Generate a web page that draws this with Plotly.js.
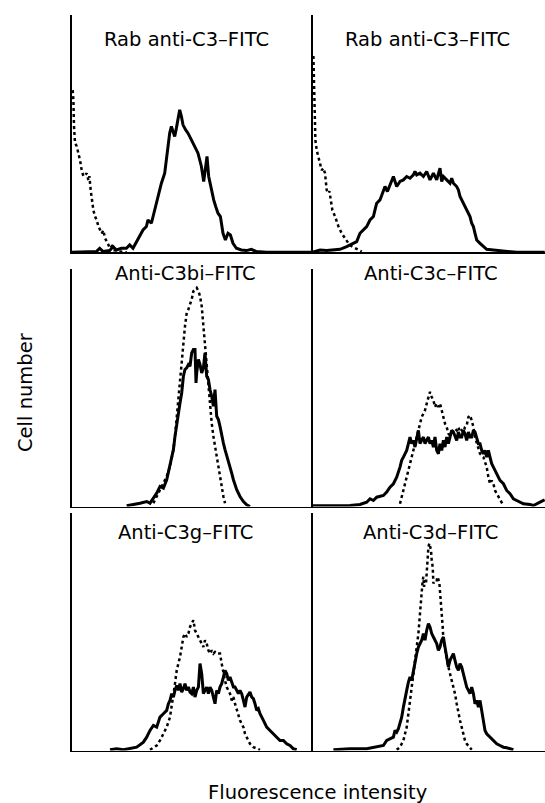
<!DOCTYPE html>
<html>
<head>
<meta charset="utf-8">
<script src="https://cdn.plot.ly/plotly-3.0.1.min.js"></script>
<style>html,body{margin:0;padding:0;background:#fff;}#chart{width:545px;height:803px;}</style>
</head>
<body>
<div id="chart"></div>
<script>
// Panel titles and axis labels
const panelTitles = ["Rab anti-C3–FITC", "Rab anti-C3–FITC", "Anti-C3bi–FITC", "Anti-C3c–FITC", "Anti-C3g–FITC", "Anti-C3d–FITC"];
const xLabel = "Fluorescence intensity";
const yLabel = "Cell number";

// Panel 1 (Rab anti-C3–FITC, left)
const p1SolidX = [0,1.3,14.7,24.7,28,31.3,38,41.3,44.7,49.7,54.7,58,61.3,64.7,68,71.3,74.7,76.3,79.7,83,86.3,89.7,93,94.7,96.3,98,99.7,101.3,103,104.7,106.3,108,109.7,111.3,114,116.3,119.7,123,126.3,129.7,132,134,135.3,137,139.7,142,144,146.3,148.7,151.3,153.7,156.3,158.7,161.3,164.7,169.7,174.7,179.7,184.7,194.7,241];
const p1SolidY = [0,0,0.3,0.7,4,0.7,1.7,5.7,2.3,4,4,7.3,4,10.7,17.3,22.3,25.7,32.3,29,42.3,55.7,69,79,92.3,105.7,119,125.7,120.7,115.7,124,132.3,142.3,135.7,127.3,122.3,119,112.3,105.7,99,85.7,70.7,85.7,95.7,75.7,62.3,52.3,45.7,39,35.7,19,12.3,19,17.3,9,4,2.3,1.7,3,0.7,0,0];
const p1DotX = [1,1.7,2.3,3.3,5,6.7,8.3,10,11.7,13.3,15,16.7,17.7,19,20,21.7,23.3,25,26.7,28.3,30,31.7,33.3,35,36.7,38.3,40,41.7,45,48.3,55];
const p1DotY = [162,152,126,109,106,99,92,82,76,77,79,72,76,62,52,42,36,32,26,22,19,22,14,11,7,4,6,2,1.7,0.7,0];

// Panel 2 (Rab anti-C3–FITC, right)
const p2SolidX = [0,2.3,7.3,14,20.7,27.3,34,37.3,40.7,44,47.3,50.7,54,57.3,60.7,62.3,64,67.3,70.7,72.3,74.7,77.3,80.7,82.3,84,87.3,90.7,94,97.3,100.7,102.3,104,107.3,110.7,114,117.3,120.7,124,127.3,129,130.7,134,137.3,139,140.7,144,145.7,147.3,150.7,154,157.3,159,160.7,162.3,164,167.3,170.7,174,180.7,187.3,194,204,232];
const p2SolidY = [0,0.7,2.3,1.7,2.3,3,5.7,7.3,9,10.7,19,22.3,25.7,32.3,35.7,42.3,49,52.3,62.3,65.7,60.7,67.3,75.7,70.7,65.7,70.7,72.3,75.7,74,77.3,80.7,77.3,79,75.7,80.7,72.3,79,72.3,84,70.7,75.7,72.3,69,74,69,65.7,62.3,55.7,49,42.3,35.7,29,25.7,19,12.3,9,5.7,3,2.3,1.7,0.7,0,0];
const p2DotX = [0.7,1.3,2,2.7,4,5.7,7.3,9,10.7,12.3,14,15.7,16.7,18,19.7,22.3,25.7,29,32.3,35.7,39,42.3,45.7,49];
const p2DotY = [196,169,142,112,102,96,89,82,84,79,62,59,61,52,42,36,26,19,14,9,6,4,2,0.7];

// Panel 3 (Anti-C3bi–FITC)
const p3SolidX = [55,61.7,68.3,75,78.3,81.7,85,88.3,91.7,95,98.3,100,101.7,103.3,105,106.7,108.3,110,111.7,113.3,115,116.7,118.3,120,121.7,123.3,124.3,125,126.7,128.3,130,131.7,133.3,135,136.7,138.3,140,141.7,143.3,145,146.7,148.3,150,151.7,153.3,155,158.3,160,161.7,165,168.3,171.7,175,178.3];
const p3SolidY = [0.7,1.7,3.3,5,3.3,8.3,13.3,20,18.3,26.7,43.3,50,56.7,70,83.3,96.7,103.3,113.3,130,136.7,138.3,141.7,140,153.3,156.7,156.7,123.3,133.3,146.7,141.7,133.3,138.3,153.3,130,126.7,116.7,110,100,116.7,90,86.7,80,70,63.3,56.7,50,40,33.3,26.7,16.7,10,5,1.7,0];
const p3DotX = [81.7,85,88.3,91.7,95,98.3,101.7,103.3,105,106.7,108.3,110,111.7,113.3,115,116.7,118.3,120,121.7,123.3,125,126.7,128.3,130,131.7,133.3,135,136.7,138.3,140,141.7,143.3,145,146.7,148.3,150,151.7,153.3];
const p3DotY = [3.3,10,16.7,23.3,30,40,56.7,70,90,110,130,150,166.7,180,193.3,196.7,201.7,206.7,215,216.7,218.3,215,210,200,180,160,140,116.7,100,83.3,70,60,50,40,30,20,10,3.3];

// Panel 4 (Anti-C3c–FITC)
const p4SolidX = [0,37.3,47.3,54,57.3,60.7,64,70.7,74,77.3,80.7,84,87.3,89,90.7,94,95.7,97.3,99,100.7,102.3,104,105.7,107.3,109,110.7,112.3,114,115.7,117.3,119,120.7,122.3,124,125.7,127.3,129,130.7,132.3,134,135.7,137.3,139,140.7,142.3,144,145.7,147.3,149,150.7,152.3,154,155.7,157.3,159,160.7,162.3,164,165.7,167.3,169,170.7,172.3,174,175.7,177.3,179,180.7,184,187.3,190.7,194,197.3,200.7,204,207.3,210.7,217.3,220.7,227.3,232];
const p4SolidY = [0.7,1,2,4.3,7.7,6,9.3,11,14.3,19.3,22.7,29.3,39.3,46,49.3,56,62.7,69.3,62.7,66,59.3,69.3,76,62.7,66,69.3,62.7,66,69.3,62.7,66,59.3,69.3,56,52.7,62.7,56,66,59.3,69.3,62.7,69.3,76,74.3,69.3,66,74.3,69.3,69.3,76,72.7,66,74.3,69.3,69.3,76,74.3,69.3,62.7,62.7,56,52.7,56,49.3,56,49.3,42.7,39.3,32.7,26,22.7,16,12.7,7.7,6,4.3,2.7,2,1,4.3,6.7];
const p4DotX = [87.3,89,90.7,94,97.3,100.7,102.3,104,105.7,107.3,109,110.7,112.3,114,115.7,117.3,119,120.7,122.3,124,125.7,127.3,129,130.7,132.3,134,135.7,137.3,139,140.7,142.3,144,145.7,147.3,149,150.7,152.3,154,155.7,157.3,159,160.7,162.3,164,165.7,167.3,170.7,174,175.7,177.3,179,180.7,182.3,184,187.3,190.7];
const p4DotY = [2.7,9.3,16,29.3,42.7,56,62.7,69.3,76,82.7,89.3,92.7,96,102.7,107.7,114.3,109.3,106,99.3,102.7,99.3,102.7,96,89.3,82.7,79.3,72.7,71,74.3,76,77.7,76,79.3,74.3,76,74.3,79.3,81,89.3,91,86,79.3,69.3,62.7,56,52.7,49.3,39.3,29.3,22.7,26,22.7,16,12.7,6,1];

// Panel 5 (Anti-C3g–FITC)
const p5SolidX = [38.3,45,51.7,58.3,65,71.7,75,78.3,81.7,85,86.7,88.3,91.7,95,96.7,98.3,100,101.7,103.3,105,106.7,108.3,110,111.7,113.3,115,116.7,118.3,120,121.7,123.3,125,126.7,128.3,130,131.7,133.3,135,136.7,138.3,140,141.7,143.3,145,146.7,148.3,150,151.7,153.3,155,156.7,158.3,160,161.7,163.3,165,166.7,168.3,170,171.7,173.3,175,176.7,178.3,180,181.7,183.3,185,186.7,188.3,191.7,195,198.3,201.7,205,208.3,211.7,215,218.3,221.7,225];
const p5SolidY = [0.7,1.7,0.7,1.7,3.3,8.3,13.3,20,25,23.3,30,33.3,36.7,40,46.7,50,56.7,53.3,60,65,60,66.7,58.3,61.7,66.7,60,63.3,58.3,56.7,63.3,53.3,60,63.3,86.7,76.7,56.7,60,63.3,56.7,63.3,60,53.3,46.7,60,56.7,63.3,66.7,73.3,80,76.7,70,73.3,68.3,63.3,63.3,60,56.7,60,56.7,50,43.3,53.3,56.7,58.3,53.3,51.7,46.7,40,41.7,36.7,30,23.3,20,16.7,13.3,10,10,6.7,5,1.7,0.7];
const p5DotX = [78.3,81.7,85,88.3,91.7,95,98.3,100,101.7,103.3,105,106.7,108.3,110,111.7,113.3,115,116.7,118.3,120,121.7,123.3,125,126.7,128.3,130,131.7,133.3,135,136.7,138.3,140,141.7,143.3,145,146.7,148.3,150,151.7,153.3,155,156.7,158.3,160,161.7,163.3,165,166.7,168.3,170,171.7,173.3,175,176.7,178.3,181.7,185,188.3];
const p5DotY = [0.7,3.3,5,10,16.7,23.3,33.3,43.3,56.7,66.7,80,86.7,93.3,103.3,113.3,116.7,113.3,116.7,123.3,126.7,130,120,116.7,113.3,110,106.7,103.3,110,106.7,100,96.7,100,96.7,98.3,96.7,96.7,96.7,86.7,76.7,70,63.3,60,56.7,50,53.3,46.7,40,33.3,30,26.7,23.3,16.7,13.3,10,6.7,3.3,1.7,0.7];

// Panel 6 (Anti-C3d–FITC)
const p6SolidX = [20.7,37.3,54,64,70.7,74,77.3,80.7,82.3,84,85.7,87.3,89,90.7,92.3,94,95.7,97.3,99,100.7,102.3,104,105.7,107.3,109,110.7,112.3,114,115.7,117.3,119,120.7,122.3,124,125.7,127.3,129,130.7,132.3,134,135.7,137.3,139,140.7,142.3,144,145.7,147.3,149,150.7,152.3,154,155.7,157.3,159,160.7,162.3,164,165.7,167.3,169,170.7,172.3,174,177.3,180.7,184,187.3,190.7,194,197.3,200.7];
const p6SolidY = [0.7,1.7,1.7,3.3,5,10,11.7,13.3,20,18.3,21.7,26.7,33.3,43.3,50,60,68.3,73.3,70,80,86.7,96.7,103.3,106.7,110,116.7,110,120,126.7,123.3,116.7,113.3,110,106.7,100,103.3,110,113.3,103.3,93.3,83.3,90,93.3,96.7,90,83.3,80,86.7,83.3,76.7,70,63.3,60,56.7,63.3,56.7,46.7,50,43.3,50,40,30,20,16.7,13.3,10,6.7,5,3.3,2.7,1.7,0.7];
const p6DotX = [84,87.3,89,90.7,92.3,94,95.7,97.3,99,100.7,102.3,104,105.7,107.3,108.3,109,110,110.7,111.3,112.3,113.3,114,115,115.7,116.7,117.3,118.3,119,120,120.7,122.3,124,125,126.7,127.3,128.3,129,130,130.7,132.3,134,135.7,137.3,139,140.7,142.3,144,145.7,147.3,149,150.7,152.3,154,155.7,157.3,159];
const p6DotY = [0.7,3.3,6.7,10,16.7,23.3,36.7,50,63.3,76.7,90,103.3,116.7,136.7,153.3,163.3,170,173.3,163.3,170,166.7,176.7,193.3,203.3,206.7,205,200,190,183.3,166.7,170,170,173.3,166.7,160,150,140,123.3,110,100,90,83.3,76.7,70,63.3,56.7,46.7,36.7,30,23.3,16.7,10,6.7,5,3.3,0.7];

const panels = [
  [p1SolidX, p1SolidY, p1DotX, p1DotY],
  [p2SolidX, p2SolidY, p2DotX, p2DotY],
  [p3SolidX, p3SolidY, p3DotX, p3DotY],
  [p4SolidX, p4SolidY, p4DotX, p4DotY],
  [p5SolidX, p5SolidY, p5DotX, p5DotY],
  [p6SolidX, p6SolidY, p6DotX, p6DotY]
];

const W = 545, H = 803;
const colDom = [[71.7 / W, 312.7 / W], [312.7 / W, 1]];
const rowDom = [[1 - 252.3 / H, 1 - 15 / H], [1 - 506.5 / H, 1 - 269 / H], [1 - 750.5 / H, 1 - 513 / H]];
const xMax = [241, 232.3];
const yMax = 237;

const traces = [];
const layout = {
  width: W, height: H,
  margin: {l: 0, r: 0, t: 0, b: 0, pad: 0},
  paper_bgcolor: "#fff", plot_bgcolor: "rgba(0,0,0,0)",
  showlegend: false,
  font: {family: "DejaVu Sans, sans-serif", color: "#000"},
  annotations: []
};

const titlePos = [[186.7, 40], [427.8, 40], [185, 273.5], [430.8, 273.5], [185, 532.5], [430, 532.5]];

panels.forEach((p, i) => {
  const n = i + 1;
  const xa = n === 1 ? "x" : "x" + n;
  const ya = n === 1 ? "y" : "y" + n;
  const col = i % 2, row = Math.floor(i / 2);
  traces.push({x: p[0], y: p[1], xaxis: xa, yaxis: ya, type: "scatter", mode: "lines",
    line: {color: "#000", width: 3}, hoverinfo: "skip"});
  traces.push({x: p[2], y: p[3], xaxis: xa, yaxis: ya, type: "scatter", mode: "lines",
    line: {color: "#000", width: 2.5, dash: "dot"}, hoverinfo: "skip"});
  const axCommon = {showline: true, linecolor: "#000", linewidth: 1.6, showgrid: false,
    zeroline: false, ticks: "", showticklabels: false, fixedrange: true};
  layout[n === 1 ? "xaxis" : "xaxis" + n] = Object.assign({}, axCommon, {
    domain: colDom[col], range: [0, xMax[col]], anchor: ya});
  layout[n === 1 ? "yaxis" : "yaxis" + n] = Object.assign({}, axCommon, {
    domain: rowDom[row], range: [0, yMax], anchor: xa});
  layout.annotations.push({text: panelTitles[i], xref: "paper", yref: "paper",
    x: titlePos[i][0] / W, y: 1 - titlePos[i][1] / H, xanchor: "center", yanchor: "middle",
    showarrow: false, font: {size: 19.5, color: "#000", family: "DejaVu Sans, sans-serif"}});
});

layout.annotations.push({text: xLabel, xref: "paper", yref: "paper", x: 317.5 / W, y: 1 - 792 / H,
  xanchor: "center", yanchor: "middle", showarrow: false, font: {size: 19.5, color: "#000"}});
layout.annotations.push({text: yLabel, xref: "paper", yref: "paper", x: 26 / W, y: 1 - 392 / H,
  xanchor: "center", yanchor: "middle", textangle: -90, showarrow: false, font: {size: 19.5, color: "#000"}});

Plotly.newPlot("chart", traces, layout, {staticPlot: true, displayModeBar: false});
</script>
</body>
</html>
